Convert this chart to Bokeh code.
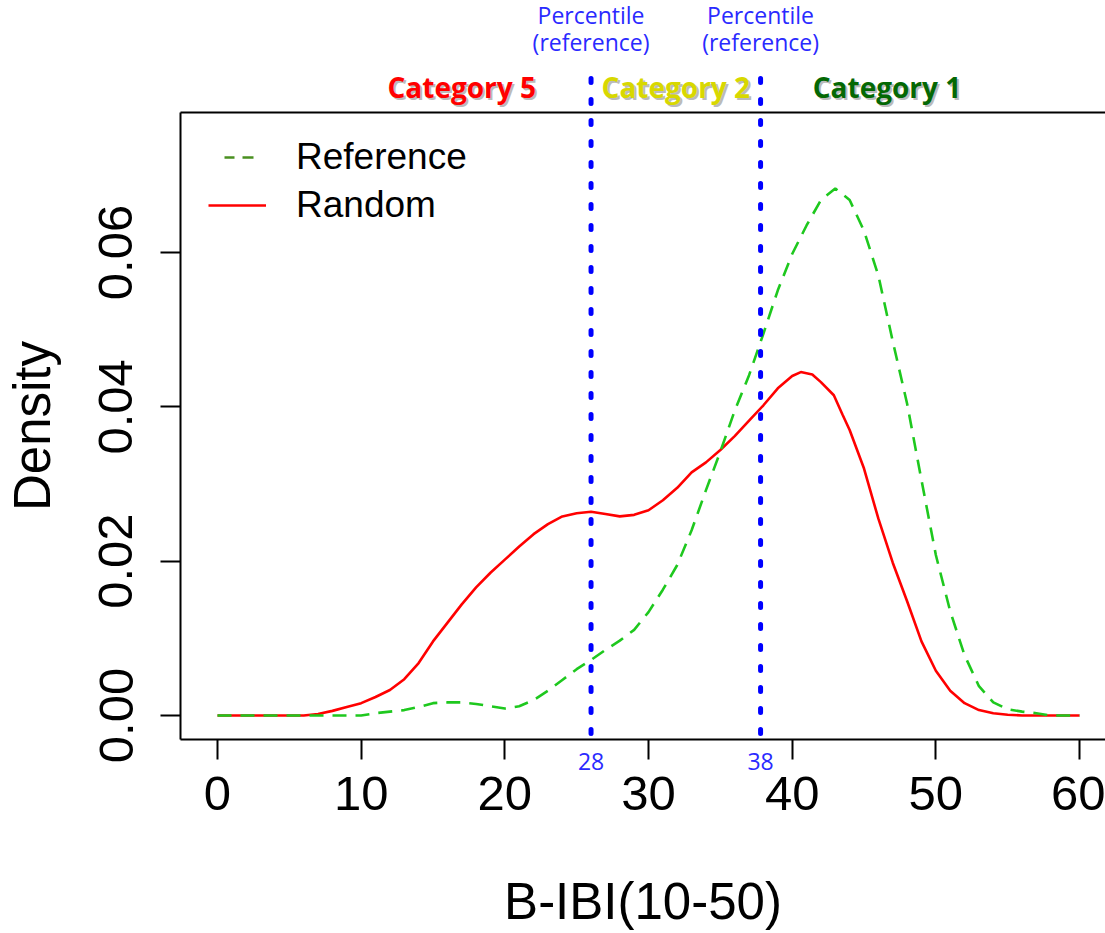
from bokeh.plotting import figure
from bokeh.models import (Range1d, FixedTicker, PrintfTickFormatter, LinearAxis,
                          Legend, Label)
from bokeh.embed import file_html
from bokeh.resources import INLINE

# ---------------- data ----------------
random_x = [0, 2, 4, 6, 7, 8, 9, 10, 11, 12, 13, 14, 15, 16, 17, 18, 19, 20, 21, 22,
            23, 24, 25, 26, 27, 28, 29, 30, 31, 32, 33, 34, 35, 36, 37, 38, 39, 40,
            40.6, 41.4, 42, 42.9, 43.5, 44, 45, 46, 47, 48, 49, 50, 51, 52, 53, 54,
            55, 56, 58, 60]
random_y = [0, 0, 0, 0, 0.0002, 0.0006, 0.0011, 0.0016, 0.0024, 0.0033, 0.0047,
            0.0068, 0.0096, 0.0120, 0.0144, 0.0166, 0.0185, 0.0202, 0.0219, 0.0235,
            0.0248, 0.0258, 0.0262, 0.0264, 0.0261, 0.0258, 0.0260, 0.0266, 0.0279,
            0.0295, 0.0315, 0.0328, 0.0344, 0.0362, 0.0382, 0.0402, 0.0424, 0.0440,
            0.0445, 0.0442, 0.0432, 0.0415, 0.0390, 0.0370, 0.0320, 0.0255, 0.0198,
            0.0148, 0.0096, 0.0058, 0.0032, 0.0016, 0.0007, 0.0003, 0.0001, 0, 0, 0]

reference_x = [0, 2, 4, 6, 8, 10, 11, 12, 13, 14, 15, 16, 17, 18, 19, 20, 21, 22, 23,
               24, 25, 26, 27, 28, 29, 30, 31, 32, 33, 34, 35, 36, 37, 38, 39, 40, 41,
               42, 43, 44, 45, 46, 47, 48, 49, 50, 51, 52, 53, 54, 55, 56, 57, 58, 60]
reference_y = [0, 0, 0, 0, 0, 0, 0.0003, 0.0005, 0.0007, 0.0011, 0.0016, 0.0017,
               0.0017, 0.0015, 0.0012, 0.0009, 0.0012, 0.0020, 0.0032, 0.0046, 0.0060,
               0.0072, 0.0085, 0.0097, 0.0111, 0.0134, 0.0163, 0.0195, 0.0240, 0.0292,
               0.0342, 0.0395, 0.0441, 0.0495, 0.0551, 0.0598, 0.0635, 0.0668, 0.0683,
               0.0668, 0.0628, 0.0570, 0.0485, 0.0404, 0.0305, 0.0208, 0.0135, 0.0078,
               0.0038, 0.0017, 0.0008, 0.0005, 0.0003, 0, 0]

percentile_x = [26.0, 37.8]
percentile_labels = ["28", "38"]

categories = ["Category 5", "Category 2", "Category 1"]
category_x = [17.0, 31.9, 46.6]
category_colors = ["#ff0000", "#d8d800", "#046804"]

x_ticks = [0, 10, 20, 30, 40, 50, 60]
y_ticks = [0.0, 0.02, 0.04, 0.06]

# ---------------- geometry (pixel -> data helpers) ----------------
W, H = 1105, 933
PX_X0, PX_PER_X = 217.0, 14.367     # pixel of x=0, pixels per x unit
PX_Y0, PX_PER_Y = 715.0, 7717.0     # pixel of y=0, pixels per y unit
TXT_SHIFT = 9                       # baseline correction for labels


def dx(px):
    return (px - PX_X0) / PX_PER_X


def dy(py):
    return (PX_Y0 - py) / PX_PER_Y


def ty(py):
    return dy(py - TXT_SHIFT)


XL, XR = dx(180), dx(W)        # box left / right
YB, YT = dy(739), dy(112)      # box bottom / top

p = figure(width=W, height=H, x_range=Range1d(dx(0), dx(W)),
           y_range=Range1d(dy(H), dy(0)),
           output_backend="svg", toolbar_location=None,
           min_border=0, min_border_left=0, min_border_right=0,
           min_border_top=0, min_border_bottom=0)
p.outline_line_color = None
p.xgrid.visible = False
p.ygrid.visible = False
p.background_fill_color = "white"
p.border_fill_color = "white"

FONT = "Liberation Sans"

xa = p.xaxis[0]
xa.fixed_location = YB
xa.bounds = (XL, XR)
xa.ticker = FixedTicker(ticks=x_ticks)
xa.axis_line_width = 2
xa.axis_line_color = "black"
xa.major_tick_line_width = 2
xa.major_tick_line_color = "black"
xa.major_tick_in = 0
xa.major_tick_out = 20
xa.minor_tick_line_color = None
xa.major_label_text_font = FONT
xa.major_label_text_font_size = "49px"
xa.major_label_text_color = "black"
xa.major_label_standoff = 17
xa.axis_label = "B-IBI(10-50)"
xa.axis_label_text_font = FONT
xa.axis_label_text_font_size = "51px"
xa.axis_label_text_font_style = "normal"
xa.axis_label_text_color = "black"
xa.axis_label_standoff = 60

ya = p.yaxis[0]
ya.fixed_location = XL
ya.bounds = (YB, YT)
ya.ticker = FixedTicker(ticks=y_ticks)
ya.formatter = PrintfTickFormatter(format="%.2f")
ya.axis_line_width = 2
ya.axis_line_color = "black"
ya.major_tick_line_width = 2
ya.major_tick_line_color = "black"
ya.major_tick_in = 0
ya.major_tick_out = 20
ya.minor_tick_line_color = None
ya.major_label_orientation = "vertical"
ya.major_label_text_font = FONT
ya.major_label_text_font_size = "49px"
ya.major_label_text_color = "black"
ya.major_label_standoff = 28
ya.axis_label = "Density"
ya.axis_label_text_font = FONT
ya.axis_label_text_font_size = "51px"
ya.axis_label_text_font_style = "normal"
ya.axis_label_text_color = "black"
ya.axis_label_standoff = 36

top_axis = LinearAxis(fixed_location=YT, bounds=(XL, XR),
                      ticker=FixedTicker(ticks=[]), axis_line_width=2,
                      axis_line_color="black", major_tick_line_color=None,
                      minor_tick_line_color=None)
p.add_layout(top_axis, "above")

# curves
p.line(random_x, random_y, line_color="#ff0000", line_width=2.6)
p.line(reference_x, reference_y, line_color="#1ec81e", line_width=2.6,
       line_dash="14 9")

# percentile lines
p.segment(x0=percentile_x, y0=[dy(733)] * 2, x1=percentile_x, y1=[dy(65)] * 2,
          line_color="#0000ff", line_width=5, line_dash="4 17", line_cap="round")

TXT_BLUE = "#2a2aff"
for xv, lab in zip(percentile_x, percentile_labels):
    p.add_layout(Label(x=xv, y=ty(770), text=lab, text_align="center",
                       text_baseline="alphabetic", text_font="Open Sans",
                       text_font_size="23px", text_color=TXT_BLUE))
    p.add_layout(Label(x=xv, y=ty(23), text="Percentile", text_align="center",
                       text_baseline="alphabetic", text_font="Open Sans",
                       text_font_size="23px", text_color=TXT_BLUE))
    p.add_layout(Label(x=xv, y=ty(50), text="(reference)", text_align="center",
                       text_baseline="alphabetic", text_font="Open Sans",
                       text_font_size="23px", text_color=TXT_BLUE))

# category labels with shadow
for cat, cx, col in zip(categories, category_x, category_colors):
    p.add_layout(Label(x=cx, y=ty(95), text=cat, text_align="center",
                       text_baseline="alphabetic", text_font="Open Sans",
                       text_font_style="bold", text_font_size="28px",
                       text_color="#bbbbbb", x_offset=2, y_offset=-2))
    p.add_layout(Label(x=cx, y=ty(95), text=cat, text_align="center",
                       text_baseline="alphabetic", text_font="Open Sans",
                       text_font_style="bold", text_font_size="28px",
                       text_color=col))

# legend (glyph-only renderers: one point, so nothing is drawn in the plot)
leg_ref = p.line(reference_x[:1], reference_y[:1], line_color="#4a9020",
                 line_width=2.5, line_dash="0 16 10 8 11 40")
leg_rand = p.line(random_x[:1], random_y[:1], line_color="#ff0000", line_width=2.5)
legend = Legend(items=[("Reference", [leg_ref]), ("Random", [leg_rand])],
                location=(208, H - 226), margin=0, padding=0, glyph_width=58,
                glyph_height=30, label_height=40, spacing=6, label_standoff=30,
                label_text_font=FONT, label_text_font_size="37px",
                label_text_color="black",
                border_line_color=None, background_fill_alpha=0)
p.add_layout(legend)

open("out.html", "w").write(file_html(p, INLINE))
